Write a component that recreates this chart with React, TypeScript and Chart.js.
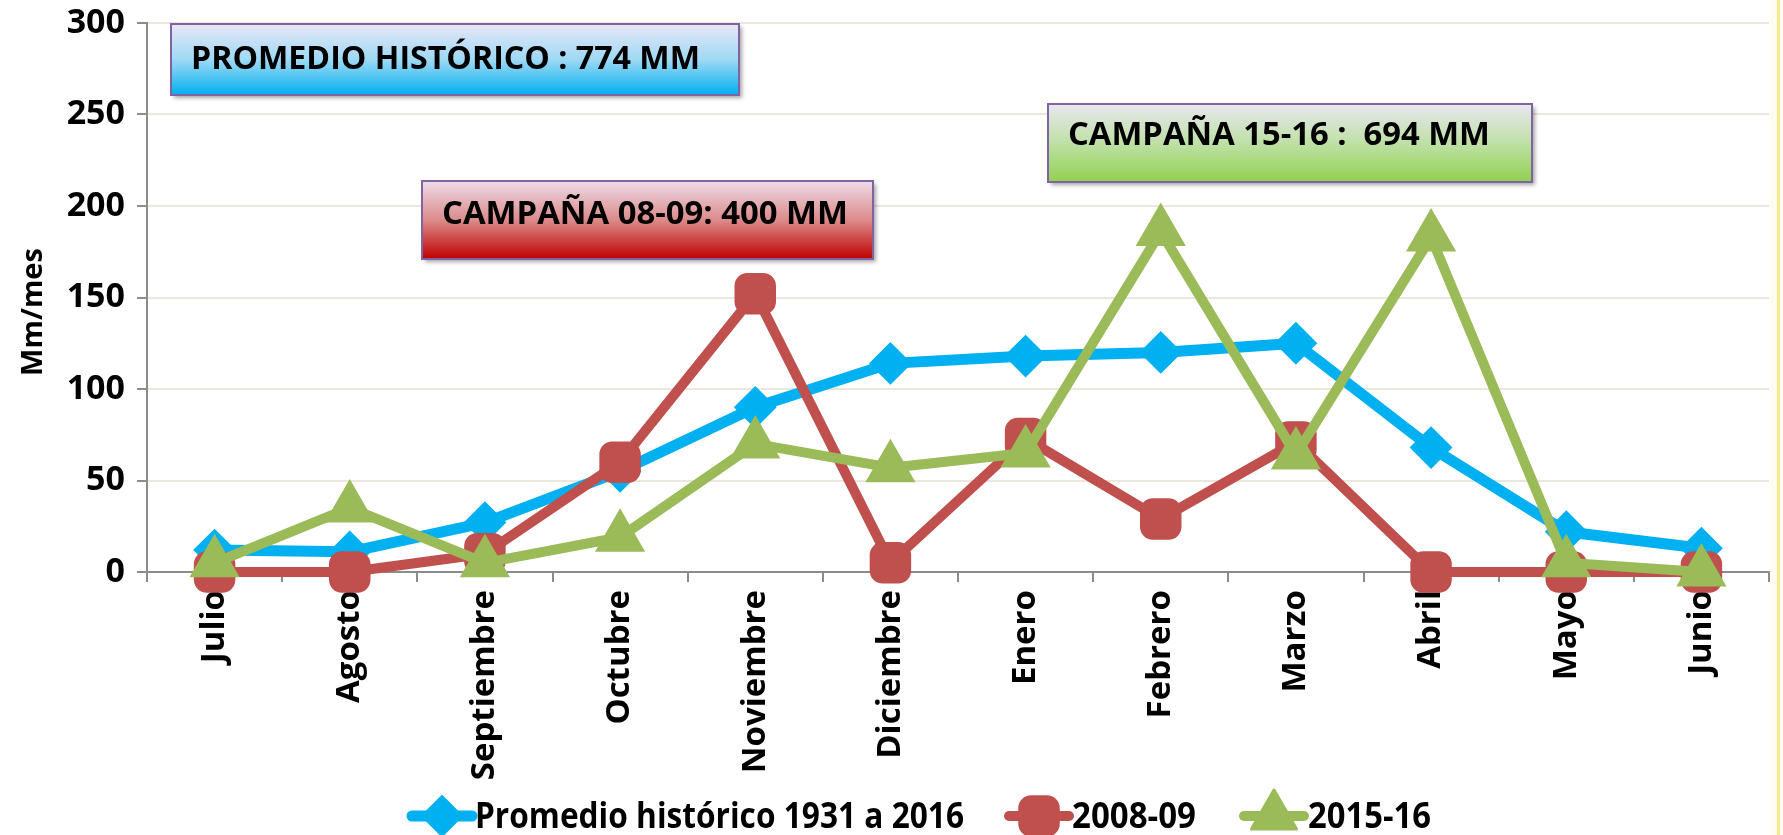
import React, { useEffect, useRef } from 'react';
import { Chart, registerables } from 'chart.js';
import { drawPoint } from 'chart.js/helpers';
Chart.register(...registerables);

const months = ['Julio', 'Agosto', 'Septiembre', 'Octubre', 'Noviembre', 'Diciembre', 'Enero', 'Febrero', 'Marzo', 'Abril', 'Mayo', 'Junio'];
const promedio = [12, 11, 27, 55, 90, 114, 118, 120, 125, 68, 22, 13];
const campana0809 = [0, 0, 10, 60, 152, 5, 73, 29, 71, 0, 0, 0];
const campana1516 = [5, 35, 5, 19, 70, 57, 65, 186, 64, 183, 5, 0];
const seriesNames = ['Promedio histórico 1931 a 2016', '2008-09', '2015-16'];
const yTickValues = [0, 50, 100, 150, 200, 250, 300];
const boxTexts = ['PROMEDIO HISTÓRICO : 774 MM', 'CAMPAÑA 08-09: 400 MM', 'CAMPAÑA 15-16 :  694 MM'];
const yTitle = 'Mm/mes';

const BLUE = '#00b0f0';
const RED = '#c0504d';
const GREEN = '#9bbb59';
const AXIS = '#8c8c8c';
const GRID = '#ebe7dd';
const FONT = "'Open Sans', sans-serif";

const boxLayout = [
  { x: 171, y: 24, w: 568, h: 71, tx: 191, ty: 60, tw: 509, top: '#e9e7f8', mid: '#9fd9f4', bottom: '#00b0f0' },
  { x: 422, y: 181, w: 451, h: 78, tx: 442, ty: 215, tw: 406, top: '#eedde9', mid: '#dc8a8a', bottom: '#c00000' },
  { x: 1048, y: 104, w: 484, h: 78, tx: 1068, ty: 136, tw: 422, top: '#e9e7f0', mid: '#bfe0a6', bottom: '#92d050' },
];

const legendLayout = [
  { x0: 412, x1: 472, tx: 475, tw: 489 },
  { x0: 1009, x1: 1069, tx: 1072, tw: 124 },
  { x0: 1244, x1: 1304, tx: 1308, tw: 123 },
];
const legendY = 816;

function fitText(ctx: CanvasRenderingContext2D, text: string, x: number, y: number, font: string, targetW: number) {
  ctx.font = font;
  const w = ctx.measureText(text).width;
  ctx.save();
  ctx.translate(x, y);
  ctx.scale(targetW / w, 1);
  ctx.fillText(text, 0, 0);
  ctx.restore();
}

const bgPlugin = {
  id: 'bg',
  beforeDraw(chart: any) {
    const ctx = chart.ctx;
    ctx.save();
    ctx.fillStyle = '#ffffff';
    ctx.fillRect(0, 0, chart.width, chart.height);
    ctx.fillStyle = '#fffdf3';
    ctx.fillRect(chart.width - 13, 0, 13, chart.height);
    ctx.fillStyle = '#f7ea8a';
    ctx.fillRect(chart.width - 6, 0, 3, chart.height);
    ctx.restore();
  },
  afterDraw(chart: any) {
    const ctx = chart.ctx;
    ctx.save();
    ctx.translate(34, 312);
    ctx.rotate(-Math.PI / 2);
    ctx.fillStyle = '#000';
    ctx.font = `bold 29px ${FONT}`;
    ctx.textAlign = 'center';
    ctx.textBaseline = 'middle';
    ctx.fillText(yTitle, 0, 0);
    ctx.restore();
  },
};

const boxesPlugin = {
  id: 'boxes',
  afterDatasetsDraw(chart: any) {
    const ctx = chart.ctx;
    boxLayout.forEach((b, i) => {
      ctx.save();
      ctx.shadowColor = 'rgba(0,0,0,0.35)';
      ctx.shadowBlur = 4;
      ctx.shadowOffsetX = 3;
      ctx.shadowOffsetY = 3;
      const g = ctx.createLinearGradient(0, b.y, 0, b.y + b.h);
      g.addColorStop(0, b.top);
      g.addColorStop(0.5, b.mid);
      g.addColorStop(1, b.bottom);
      ctx.fillStyle = g;
      ctx.fillRect(b.x, b.y, b.w, b.h);
      ctx.shadowColor = 'transparent';
      ctx.strokeStyle = '#8064a2';
      ctx.lineWidth = 2;
      ctx.strokeRect(b.x, b.y, b.w, b.h);
      ctx.fillStyle = '#000';
      ctx.textBaseline = 'middle';
      ctx.textAlign = 'left';
      fitText(ctx, boxTexts[i], b.tx, b.ty, `bold 33px ${FONT}`, b.tw);
      ctx.restore();
    });
  },
};

const legendPlugin = {
  id: 'customLegend',
  afterDraw(chart: any) {
    const ctx = chart.ctx;
    chart.data.datasets.forEach((ds: any, i: number) => {
      const l = legendLayout[i];
      ctx.save();
      ctx.strokeStyle = ds.borderColor;
      ctx.lineWidth = ds.borderWidth;
      ctx.lineCap = 'round';
      ctx.beginPath();
      ctx.moveTo(l.x0, legendY);
      ctx.lineTo(l.x1, legendY);
      ctx.stroke();
      ctx.fillStyle = ds.pointBackgroundColor;
      ctx.strokeStyle = ds.pointBorderColor;
      ctx.lineWidth = ds.pointBorderWidth;
      ctx.lineJoin = 'round';
      drawPoint(ctx, { pointStyle: ds.pointStyle, rotation: 0, radius: ds.pointRadius, borderWidth: ds.pointBorderWidth }, (l.x0 + l.x1) / 2, legendY);
      ctx.fillStyle = '#000';
      ctx.textBaseline = 'middle';
      ctx.textAlign = 'left';
      fitText(ctx, ds.label, l.tx, legendY + 2, `bold 36px ${FONT}`, l.tw);
      ctx.restore();
    });
  },
};

export default function App() {
  const ref = useRef<HTMLCanvasElement>(null);
  useEffect(() => {
    const canvas = ref.current!;
    const chart = new Chart(canvas, {
      type: 'line',
      data: {
        labels: months,
        datasets: [
          {
            label: seriesNames[0], data: promedio, borderColor: BLUE, backgroundColor: BLUE,
            pointBackgroundColor: BLUE, pointBorderColor: BLUE, borderWidth: 11,
            pointStyle: 'rectRot', pointRadius: 20, pointBorderWidth: 2, order: 3, clip: false, tension: 0,
          } as any,
          {
            label: seriesNames[1], data: campana0809, borderColor: RED, backgroundColor: RED,
            pointBackgroundColor: RED, pointBorderColor: RED, borderWidth: 10,
            pointStyle: 'rectRounded', pointRadius: 23, pointBorderWidth: 2, order: 2, clip: false, tension: 0,
          } as any,
          {
            label: seriesNames[2], data: campana1516, borderColor: GREEN, backgroundColor: GREEN,
            pointBackgroundColor: GREEN, pointBorderColor: GREEN, borderWidth: 10,
            pointStyle: 'triangle', pointRadius: 26, pointBorderWidth: 3, order: 1, clip: false, tension: 0,
          } as any,
        ],
      },
      options: {
        animation: false,
        responsive: false,
        maintainAspectRatio: false,
        layout: { autoPadding: false, padding: { left: 0, right: 14, top: 23, bottom: 0 } },
        plugins: { legend: { display: false }, tooltip: { enabled: false } },
        elements: { line: { borderJoinStyle: 'round' } },
        scales: {
          x: {
            offset: true,
            grid: { display: true, drawOnChartArea: false, offset: true, tickLength: 10, color: AXIS, lineWidth: 2 },
            border: { color: AXIS, width: 2 },
            ticks: {
              minRotation: 90, maxRotation: 90, autoSkip: false, padding: 8, color: '#000',
              font: { family: FONT, weight: 'bold', size: 33 },
            },
            afterFit: (s: any) => { s.height = 263; s.paddingLeft = 0; s.paddingRight = 0; },
          },
          y: {
            min: 0, max: 300,
            afterBuildTicks: (s: any) => { s.ticks = yTickValues.map((v) => ({ value: v })); },
            ticks: { padding: 12, color: '#000', font: { family: FONT, weight: 'bold', size: 34 } },
            grid: {
              color: (c: any) => (c.tick && c.tick.value === 0 ? AXIS : GRID),
              lineWidth: 2, tickLength: 10, tickColor: AXIS,
            },
            border: { color: AXIS, width: 2 },
            afterFit: (s: any) => { s.width = 147; s.paddingTop = 0; s.paddingBottom = 0; },
          },
        },
      } as any,
      plugins: [bgPlugin, boxesPlugin, legendPlugin],
    });
    return () => chart.destroy();
  }, []);
  return (
    <div style={{ position: 'absolute', left: 0, top: 0, width: 1783, height: 835 }}>
      <canvas ref={ref} width={1783} height={835} style={{ display: 'block', width: 1783, height: 835 }} />
    </div>
  );
}
